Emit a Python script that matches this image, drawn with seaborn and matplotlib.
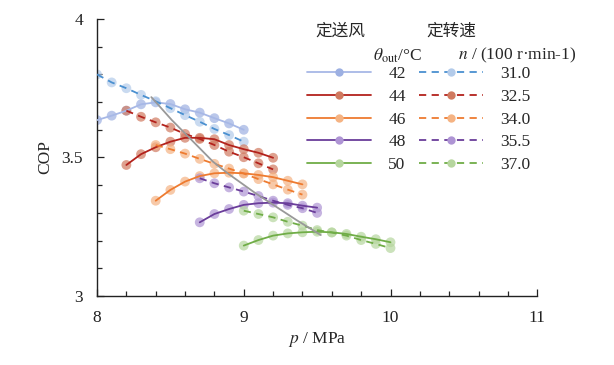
import numpy as np
import pandas as pd
import matplotlib
matplotlib.use("Agg")
import matplotlib.pyplot as plt
import seaborn as sns
from matplotlib.lines import Line2D
from matplotlib.ticker import MultipleLocator

sns.set_style("ticks")
plt.rcParams['font.family'] = ['Liberation Serif', 'Noto Sans CJK SC', 'DejaVu Sans']
plt.rcParams['mathtext.fontset'] = 'stix'

# ---- data ----
# fixed air flow (solid), outlet temperature theta_out
theta_out = ['42', '44', '46', '48', '50']
p_42 = [8.0, 8.1, 8.2, 8.3, 8.4, 8.5, 8.6, 8.7, 8.8, 8.9, 9.0]
cop_42 = [3.635, 3.651, 3.669, 3.692, 3.699, 3.693, 3.674, 3.662, 3.642, 3.623, 3.600]
p_44 = [8.2, 8.3, 8.4, 8.5, 8.6, 8.7, 8.8, 8.9, 9.0, 9.1, 9.2]
cop_44 = [3.473, 3.512, 3.537, 3.557, 3.571, 3.571, 3.566, 3.545, 3.530, 3.517, 3.499]
p_46 = [8.4, 8.5, 8.6, 8.7, 8.8, 8.9, 9.0, 9.1, 9.2, 9.3, 9.4]
cop_46 = [3.344, 3.383, 3.413, 3.433, 3.443, 3.445, 3.443, 3.437, 3.429, 3.416, 3.403]
p_48 = [8.7, 8.8, 8.9, 9.0, 9.1, 9.2, 9.3, 9.4, 9.5]
cop_48 = [3.266, 3.296, 3.314, 3.329, 3.335, 3.337, 3.335, 3.326, 3.319]
p_50 = [9.0, 9.1, 9.2, 9.3, 9.4, 9.5, 9.6, 9.7, 9.8, 9.9, 10.0]
cop_50 = [3.182, 3.202, 3.218, 3.226, 3.230, 3.232, 3.230, 3.224, 3.214, 3.205, 3.194]

# fixed compressor speed (dashed), n / (100 r/min)
speed_n = ['31.0', '32.5', '34.0', '35.5', '37.0']
cop_n31 = [3.800, 3.771, 3.750, 3.726, 3.703, 3.678, 3.653, 3.629, 3.603, 3.581, 3.557]
cop_n325 = [3.669, 3.647, 3.627, 3.608, 3.585, 3.567, 3.545, 3.521, 3.501, 3.479, 3.457]
cop_n34 = [3.545, 3.530, 3.514, 3.495, 3.477, 3.460, 3.442, 3.422, 3.403, 3.384, 3.366]
cop_n355 = [3.425, 3.407, 3.392, 3.377, 3.361, 3.344, 3.329, 3.317, 3.300]
cop_n37 = [3.308, 3.296, 3.284, 3.268, 3.254, 3.238, 3.229, 3.218, 3.202, 3.188, 3.173]

# optimum locus (grey)
p_opt = [8.37, 8.51, 8.60, 8.79, 8.89, 9.08, 9.36, 9.525]
cop_opt = [3.718, 3.635, 3.587, 3.485, 3.443, 3.371, 3.274, 3.220]

solid_line = ['#a7b8e6', '#b3221c', '#ee7b30', '#6a3d9a', '#70ad47']
dash_line = ['#4a90d0', '#b3221c', '#ee7b30', '#6a3d9a', '#70ad47']
solid_mk = ['#9db0e2', '#d07a60', '#f5b383', '#ae94d4', '#b6d69e']
dash_mk = ['#b3cbea', '#d07a60', '#f5b383', '#ae94d4', '#b6d69e']

solid_sets = [(p_42, cop_42), (p_44, cop_44), (p_46, cop_46), (p_48, cop_48), (p_50, cop_50)]
dash_sets = [(p_42, cop_n31), (p_44, cop_n325), (p_46, cop_n34), (p_48, cop_n355), (p_50, cop_n37)]

fig, ax = plt.subplots(figsize=(6.14, 3.65), dpi=100)
fig.subplots_adjust(left=0.158, right=0.875, bottom=0.189, top=0.948)

for i in range(5):
    px, py = solid_sets[i]
    d = pd.DataFrame({'p': px, 'cop': py})
    sns.scatterplot(data=d, x='p', y='cop', ax=ax, color=solid_mk[i], s=50,
                    alpha=0.7, edgecolor='none', zorder=2)
    sns.lineplot(data=d, x='p', y='cop', ax=ax, color=solid_line[i], lw=1.3,
                 zorder=3, sort=False)
    px, py = dash_sets[i]
    d = pd.DataFrame({'p': px, 'cop': py})
    sns.scatterplot(data=d, x='p', y='cop', ax=ax, color=dash_mk[i], s=50,
                    alpha=0.7, edgecolor='none', zorder=2)
    ln = sns.lineplot(data=d, x='p', y='cop', ax=ax, color=dash_line[i], lw=1.3,
                      zorder=3, sort=False)
    ln.lines[-1].set_dashes((4, 3))

sns.lineplot(x=p_opt, y=cop_opt, ax=ax, color='#999999', lw=1.3, zorder=4, sort=False)

ax.set_xlim(8, 11)
ax.set_ylim(3, 4)
ax.set_xticks([8, 9, 10, 11])
ax.set_yticks([3, 3.5, 4])
ax.set_yticklabels(['3', '3.5', '4'])
ax.xaxis.set_minor_locator(MultipleLocator(0.2))
ax.yaxis.set_minor_locator(MultipleLocator(0.1))
ax.tick_params(which='major', direction='in', length=5, width=0.9, labelsize=12.5, pad=10, colors='#222222')
ax.tick_params(which='minor', direction='in', length=3.5, width=0.9)
for s in ['top', 'right']:
    ax.spines[s].set_visible(False)
for s in ['left', 'bottom']:
    ax.spines[s].set_linewidth(1.0)
    ax.spines[s].set_color('#222222')

ax.set_xlabel(r'$p$ / MPa', fontsize=12.5, labelpad=3)
ax.set_ylabel('COP', fontsize=12.5, labelpad=6)

# legend: two columns (solid | dashed)
handles = []
labels = []
for i in range(5):
    handles.append(Line2D([], [], color=solid_line[i], lw=1.3, marker='o', ms=6,
                          markerfacecolor=solid_mk[i], markeredgecolor='none'))
    labels.append(theta_out[i])
for i in range(5):
    handles.append(Line2D([], [], color=dash_line[i], lw=1.3, ls=(0, (4, 3)), marker='o', ms=6,
                          markerfacecolor=dash_mk[i], markeredgecolor='none'))
    labels.append(speed_n[i])
leg = ax.legend(handles, labels, ncol=2, loc='upper left', bbox_to_anchor=(0.476, 0.83),
                frameon=False, fontsize=12.5, handlelength=3.7, handletextpad=1.0,
                columnspacing=0.75, labelspacing=0.38, borderpad=0, borderaxespad=0)

ax.text(0.495, 0.955, '定送风', transform=ax.transAxes, fontsize=12, ha='left', va='center')
ax.text(0.748, 0.955, '定转速', transform=ax.transAxes, fontsize=12, ha='left', va='center')
ax.text(0.626, 0.868, r'$\theta_{\rm out}$/°C', transform=ax.transAxes, fontsize=12.5, ha='left', va='center')
ax.text(0.82, 0.868, r'$n$ / (100 r·min-1)', transform=ax.transAxes, fontsize=12.5, ha='left', va='center')

fig.savefig('out.png', dpi=100)
